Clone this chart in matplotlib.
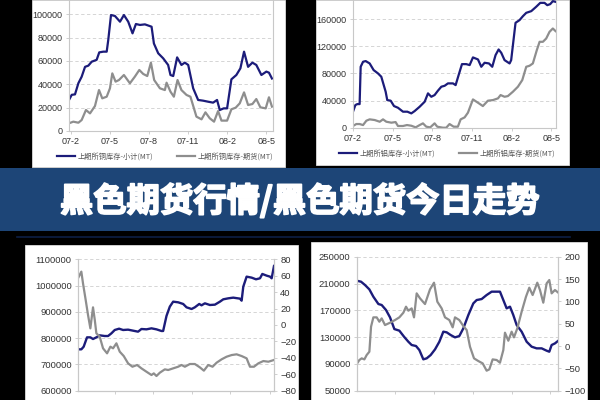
import matplotlib.pyplot as plt
from matplotlib.patches import Rectangle
from matplotlib.lines import Line2D
from matplotlib.ticker import StrMethodFormatter
import matplotlib.patheffects as pe

plt.rcParams['font.family'] = ['Liberation Sans', 'Noto Sans CJK SC', 'DejaVu Sans']

# 铜 (月, 07-2 = 0)
cu_t1 = [-0.13, 0.08, 0.33, 0.59, 0.84, 1.10, 1.35, 1.61, 1.99, 2.19, 2.50, 2.76, 2.88, 3.09, 3.39, 3.78,
         4.08, 4.41, 4.74, 5.00, 5.31, 5.69, 6.20, 6.38, 6.71, 7.09, 7.47, 7.65, 7.86, 8.16, 8.49, 8.75,
         9.01, 9.39, 9.77, 10.15, 10.54, 10.92, 11.22, 11.43, 11.73, 11.99, 12.32, 12.70, 13.01, 13.29,
         13.60, 13.93, 14.23, 14.62, 15.00, 15.20, 15.43]
cu_total = [26600, 31000, 31400, 41000, 46500, 55000, 56000, 59400, 61000, 67400, 68000, 68000, 78000,
            99400, 98600, 93700, 99400, 93700, 83700, 91700, 90900, 91400, 89400, 75000, 66600, 62300,
            56600, 48000, 47100, 63100, 56600, 58600, 56600, 36600, 26600, 26000, 25100, 24300, 26600,
            18000, 19400, 19400, 44300, 48000, 53700, 68000, 55000, 58600, 56600, 48000, 50900, 50000, 45000]
cu_t2 = [-0.13, 0.20, 0.59, 0.84, 1.17, 1.48, 1.86, 2.17, 2.42, 2.76, 3.01, 3.19, 3.44, 3.70, 4.08, 4.54,
         4.92, 5.26, 5.56, 5.87, 6.15, 6.40, 6.84, 7.22, 7.35, 7.65, 7.91, 8.19, 8.49, 8.88, 9.18, 9.64,
         10.03, 10.33, 10.66, 10.99, 11.30, 11.56, 11.99, 12.32, 12.65, 12.96, 13.29, 13.60, 13.93, 14.23,
         14.54, 14.95, 15.20, 15.43]
cu_fut = [6600, 8000, 7100, 9400, 18000, 15100, 21400, 35100, 28000, 29400, 36600, 49400, 42300, 43700,
          48000, 40900, 46600, 52300, 48900, 47100, 58600, 43700, 36600, 35100, 41400, 33700, 29400, 43700,
          35100, 30900, 29400, 12300, 10000, 16000, 10900, 8000, 17100, 8900, 8900, 18600, 20000, 23700,
          33100, 22300, 23100, 27400, 20300, 19400, 28900, 20900]

# 铝
al_t1 = [0.00, 0.18, 0.33, 0.50, 0.58, 0.76, 0.96, 1.26, 1.56, 1.89, 2.14, 2.47, 2.59, 2.85, 3.10, 3.40,
         3.78, 4.11, 4.41, 4.66, 5.04, 5.42, 5.67, 5.92, 6.17, 6.42, 6.68, 6.93, 7.18, 7.56, 7.76, 8.01,
         8.24, 8.56, 8.82, 9.07, 9.45, 9.70, 9.95, 10.28, 10.53, 10.78, 11.01, 11.21, 11.46, 11.84, 11.96,
         12.29, 12.59, 12.85, 13.10, 13.48, 13.85, 14.16, 14.48, 14.69, 14.91, 15.11, 15.32]
al_total = [23600, 33400, 34800, 34800, 89800, 97200, 98200, 94700, 84900, 80000, 75100, 53000, 40700,
            39800, 31900, 29400, 23600, 23600, 21100, 24500, 30900, 38300, 50600, 45600, 48100, 54500,
            60400, 61800, 65300, 65300, 62800, 79000, 93700, 93700, 92300, 103600, 100600, 89800, 95700,
            94700, 89800, 107000, 115300, 110400, 99600, 94700, 99600, 154600, 158500, 164400, 169300,
            171800, 178200, 184000, 184000, 180600, 182100, 186500, 185500]
al_t2 = [0.00, 0.25, 0.50, 0.76, 1.01, 1.26, 1.64, 2.02, 2.27, 2.52, 2.90, 3.22, 3.40, 3.78, 4.08, 4.41,
         4.74, 5.04, 5.29, 5.54, 5.84, 6.17, 6.37, 6.80, 7.05, 7.30, 7.61, 7.93, 8.14, 8.44, 8.69, 9.07,
         9.45, 9.82, 10.20, 10.58, 10.96, 11.16, 11.46, 11.71, 12.09, 12.47, 12.80, 13.10, 13.35, 13.60,
         13.90, 14.11, 14.36, 14.61, 14.86, 15.11, 15.32]
al_fut = [2500, 5400, 5400, 3900, 10300, 12300, 11300, 8800, 12300, 8800, 7400, 8300, 2500, 2500, 3900,
          2900, 500, 3900, 6400, 1500, 500, 6400, 1500, 0, 0, 5400, 1500, 1500, 12300, 15200, 22100, 41700,
          36800, 31900, 39800, 40700, 43200, 48100, 45600, 46600, 53000, 60400, 70200, 89800, 91300, 94700,
          114400, 126600, 126600, 131500, 141300, 146200, 142300]

month_ticks = [0, 3, 6, 9, 12, 15]
month_labels = ['07-2', '07-5', '07-8', '07-11', '08-2', '08-5']

# 左下
bl_t1 = [0.0, 0.87, 1.48, 2.35, 3.22, 3.91, 4.78, 5.65, 6.96, 7.83, 8.70, 9.57, 10.70, 11.74, 13.04, 14.35,
         15.65, 16.52, 17.83, 19.13, 20.43, 21.74, 22.17, 23.04, 23.91, 24.78, 26.09, 27.39, 28.26, 29.57,
         30.43, 31.57, 32.17, 33.04, 34.35, 35.65, 36.96, 37.83, 39.13, 40.43, 42.17, 42.61, 43.04, 43.91,
         45.22, 46.35, 47.39, 48.00, 49.13, 50.00, 50.43, 51.04]
bl_left = [757400, 757400, 767500, 803000, 803000, 796700, 803000, 810700, 808100, 808100, 818300, 831000,
           836000, 831000, 832300, 828400, 824600, 834800, 833500, 837300, 833500, 827200, 827200, 884300,
           919800, 938800, 936300, 930000, 917300, 910900, 917300, 930000, 924900, 932500, 926100, 927400,
           938800, 947700, 951500, 954100, 950300, 942600, 995900, 1034000, 1030200, 1023900, 1027700,
           1044200, 1037800, 1034000, 1027700, 1074600]
bl_t2 = [0.00, 0.87, 1.30, 2.00, 2.61, 3.22, 3.91, 4.35, 4.78, 5.65, 6.52, 7.57, 8.43, 9.13, 10.00, 10.87,
         11.91, 13.04, 14.17, 15.39, 16.52, 17.83, 19.13, 19.74, 20.43, 21.30, 22.61, 23.48, 24.78, 26.09,
         26.96, 27.83, 29.13, 30.43, 31.74, 32.78, 33.91, 35.04, 36.09, 37.39, 38.70, 40.00, 41.30, 42.61,
         43.91, 44.78, 45.83, 46.96, 48.26, 49.57, 51.04]
bl_right = [56.9, 65.0, 50.8, 30.5, 12.2, -4.1, 21.5, 6.9, -10.1, -14.2, -28.4, -34.5, -26.4, -28.4, -22.3,
            -32.5, -37.8, -46.7, -50.8, -48.7, -52.8, -56.9, -60.9, -58.9, -62.1, -58.1, -54.0, -54.8, -52.8,
            -50.8, -48.7, -50.8, -47.5, -47.5, -51.6, -55.6, -48.7, -50.8, -45.9, -41.8, -38.6, -36.6, -35.7,
            -37.8, -40.6, -50.8, -50.8, -46.7, -43.9, -44.7, -42.6]

# 右下
br_t1 = [0.00, 1.11, 2.14, 3.25, 4.27, 5.56, 6.41, 7.52, 8.55, 9.66, 10.94, 12.14, 13.25, 14.10, 15.21,
         16.07, 17.09, 17.95, 18.97, 20.09, 21.20, 22.22, 23.08, 24.10, 25.21, 26.32, 27.35, 28.63, 29.91,
         30.77, 32.05, 33.33, 34.62, 35.90, 36.75, 37.61, 38.46, 39.32, 40.17, 41.03, 42.31, 43.59, 44.87,
         46.15, 47.44, 48.72, 49.40, 50.00, 50.85, 51.71]
br_left = [214200, 212700, 207700, 201200, 190300, 179400, 177900, 170400, 159400, 142000, 139600, 130600,
           123100, 118200, 116700, 110700, 96800, 98300, 103200, 111700, 123100, 138100, 137100, 133100,
           129600, 131600, 143000, 162900, 180300, 185300, 186800, 192800, 197800, 197800, 197800, 185300,
           172900, 175400, 162900, 148000, 138100, 123100, 115700, 113200, 113200, 109700, 108200, 118200,
           120600, 124600]
br_t2 = [0.00, 0.68, 1.28, 1.97, 2.56, 3.25, 3.68, 4.27, 5.13, 5.81, 6.41, 7.26, 8.55, 9.83, 10.94, 11.97,
         12.65, 13.25, 14.10, 14.70, 15.38, 16.24, 17.52, 18.80, 19.83, 20.68, 21.79, 22.65, 23.76, 24.62,
         25.21, 26.32, 27.35, 28.21, 29.06, 30.09, 31.20, 32.31, 33.33, 34.02, 34.87, 35.90, 36.75, 37.61,
         38.03, 38.89, 39.74, 40.34, 41.20, 42.31, 43.42, 44.27, 45.13, 46.32, 47.01, 47.86, 48.72, 49.40,
         50.00, 50.85, 51.71]
br_right = [-40.3, -31.3, -27.6, -29.9, -20.1, -12.7, 43.3, 64.2, 64.2, 54.5, 61.9, 47.0, 52.2, 58.2, 64.2,
            74.6, 88.1, 79.1, 84.3, 64.2, 117.9, 106.7, 94.0, 126.9, 141.8, 99.3, 84.3, 64.2, 58.2, 41.8,
            64.2, 58.2, 44.8, 35.8, -1.5, -27.6, -33.6, -38.8, -55.2, -52.2, -29.9, -31.3, -37.3, -9.0, 29.9,
            11.9, 32.1, 19.4, 39.6, 76.9, 110.4, 130.6, 114.2, 141.8, 125.4, 97.0, 140.3, 147.8, 117.9,
            125.4, 119.4]

title = '黑色期货行情/黑色期货今日走势'

BLUE = '#1c1c7a'
GRAY = '#8e8e8e'
SPINE = '#c8c8c8'
W, H = 600, 400


def box(l, t, r, b):
    # 像素 -> 图坐标
    return [l / W, 1 - b / H, (r - l) / W, (b - t) / H]


def style(ax, fs):
    for s in ax.spines.values():
        s.set_color(SPINE)
        s.set_linewidth(0.8)
    ax.spines['top'].set_visible(False)
    ax.tick_params(colors=SPINE, labelcolor='#333333', labelsize=fs, length=2.5, width=0.6, pad=2)
    ax.yaxis.set_major_formatter(StrMethodFormatter('{x:.0f}'))
    ax.grid(axis='y', linestyle=(0, (4, 3)), color='#cfcfcf', linewidth=0.6)
    ax.set_axisbelow(True)


fig = plt.figure(figsize=(6, 4), dpi=100, facecolor='black')

# 白色底板和标题条
for l, t, r, b in [(32, 0, 285, 167), (316, 0, 569, 165), (25, 245, 298, 405), (311, 242, 587, 405)]:
    fig.add_artist(Rectangle((l / W, 1 - b / H), (r - l) / W, (b - t) / H, transform=fig.transFigure,
                             facecolor='white', edgecolor='#dddddd', lw=0.6, zorder=-10))
fig.add_artist(Rectangle((0, 1 - 231 / H), 1, 63 / H, transform=fig.transFigure,
                         facecolor='#1d4577', edgecolor='none', zorder=-10))
fig.add_artist(Line2D([17 / W, 570 / W], [1 - 237 / H] * 2, transform=fig.transFigure,
                      color='#0d1f45', lw=1.2, zorder=-10))
fig.text(0.5, 1 - 201 / H, title, color='white', fontsize=24, fontweight='heavy',
         family=['Noto Sans CJK SC', 'DejaVu Sans'], ha='center', va='center',
         path_effects=[pe.withStroke(linewidth=1.3, foreground='white')])

# 铜
ax1 = fig.add_axes(box(69, -9, 273, 131))
ax1.patch.set_alpha(0)
ax1.plot(cu_t1, cu_total, color=BLUE, lw=1.6, label='上期所铜库存-小计(MT)')
ax1.plot(cu_t2, cu_fut, color=GRAY, lw=1.6, label='上期所铜库存-期货(MT)')
ax1.set_xlim(-0.13, 15.51)
ax1.set_ylim(0, 120000)
ax1.set_yticks(range(0, 100001, 20000))
ax1.set_xticks(month_ticks, month_labels)
style(ax1, 6.5)
fig.legend(*ax1.get_legend_handles_labels(), loc='center', bbox_to_anchor=(165 / W, 1 - 157 / H),
           ncol=2, frameon=False, prop={'family': 'Noto Sans CJK SC', 'size': 5.2},
           labelcolor='#555555', handlelength=2.5, handletextpad=0.4, columnspacing=3.2)

# 铝
ax2 = fig.add_axes(box(353, -8, 556, 127.7))
ax2.patch.set_alpha(0)
ax2.plot(al_t1, al_total, color=BLUE, lw=1.6, label='上期所铝库存-小计(MT)')
ax2.plot(al_t2, al_fut, color=GRAY, lw=1.6, label='上期所铝库存-期货(MT)')
ax2.set_xlim(0, 15.35)
ax2.set_ylim(0, 200000)
ax2.set_yticks(range(0, 160001, 40000))
ax2.set_xticks(month_ticks, month_labels)
style(ax2, 6.5)
fig.legend(*ax2.get_legend_handles_labels(), loc='center', bbox_to_anchor=(447 / W, 1 - 154 / H),
           ncol=2, frameon=False, prop={'family': 'Noto Sans CJK SC', 'size': 5.2},
           labelcolor='#555555', handlelength=2.5, handletextpad=0.4, columnspacing=3.2)

# 左下
ax3 = fig.add_axes(box(78, 259.3, 274, 390.7))
ax3.patch.set_alpha(0)
ax3.plot(bl_t1, bl_left, color=BLUE, lw=1.7)
ax3.set_xlim(0, 51.04)
ax3.set_ylim(600000, 1100000)
ax3.set_yticks(range(600000, 1100001, 100000))
ax3.set_xticks([9.6, 19.6, 29.6, 39.6, 49.9], [])
style(ax3, 6.8)
ax3b = ax3.twinx()
ax3b.plot(bl_t2, bl_right, color=GRAY, lw=1.6)
ax3b.set_ylim(-80, 80)
ax3b.set_yticks(range(-80, 81, 20))
style(ax3b, 6.8)
ax3b.grid(False)

# 右下
ax4 = fig.add_axes(box(356.7, 256.7, 558.3, 390.7))
ax4.patch.set_alpha(0)
ax4.plot(br_t1, br_left, color=BLUE, lw=1.7)
ax4.set_xlim(0, 51.71)
ax4.set_ylim(50000, 250000)
ax4.set_yticks(range(50000, 250001, 40000))
ax4.set_xticks([9.8, 19.9, 29.9, 39.9, 49.7], [])
style(ax4, 6.8)
ax4b = ax4.twinx()
ax4b.plot(br_t2, br_right, color=GRAY, lw=1.6)
ax4b.set_ylim(-100, 200)
ax4b.set_yticks(range(-100, 201, 50))
style(ax4b, 6.8)
ax4b.grid(False)

fig.savefig('out.png', dpi=100, facecolor='black')
